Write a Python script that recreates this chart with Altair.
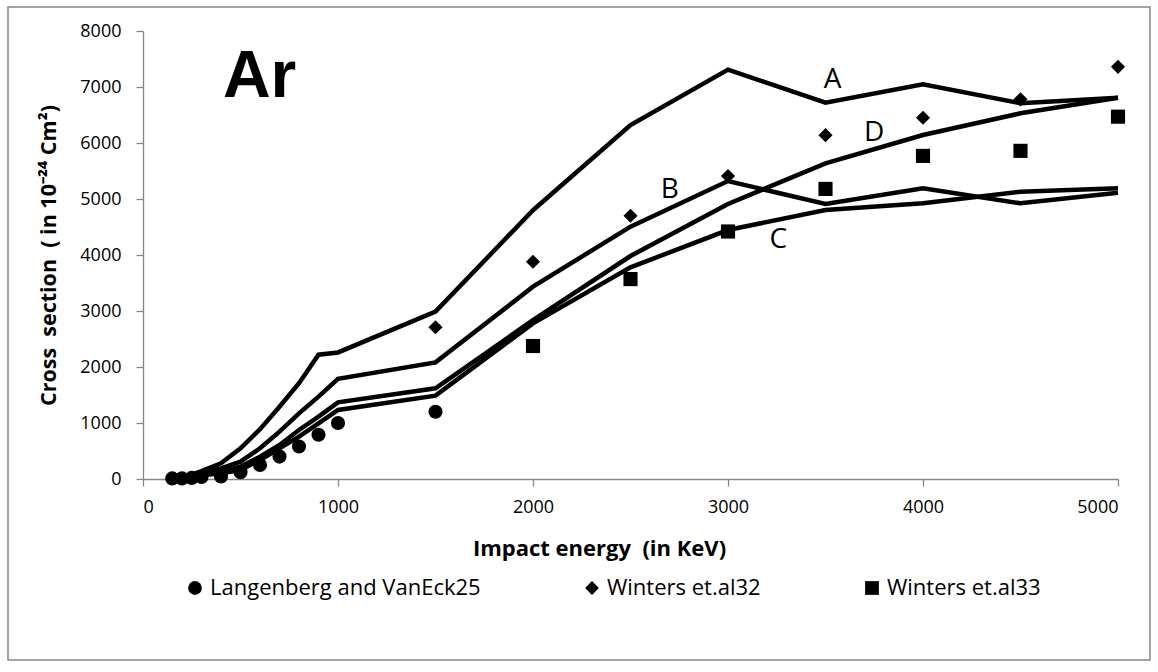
import altair as alt
import pandas as pd

# ---------------- data ----------------
energy_line = [150, 200, 250, 300, 400, 500, 600, 700, 800, 900, 1000,
               1500, 2000, 2500, 3000, 3500, 4000, 4500, 5000]
curve_A = [10, 40, 80, 140, 280, 548, 890, 1290, 1710, 2220, 2260,
           2990, 4800, 6320, 7310, 6720, 7050, 6710, 6810]
curve_B = [10, 35, 70, 110, 190, 310, 548, 845, 1173, 1470, 1790,
           2083, 3434, 4506, 5320, 4911, 5190, 4923, 5110]
curve_C = [5, 25, 45, 65, 101, 160, 339, 548, 756, 994, 1232,
           1488, 2780, 3780, 4446, 4804, 4923, 5131, 5190]
curve_D = [8, 30, 55, 80, 131, 220, 399, 607, 875, 1113, 1369,
           1619, 2839, 3982, 4911, 5637, 6143, 6530, 6809]

langenberg_energy = [150, 200, 250, 300, 400, 500, 600, 700, 800, 900, 1000, 1500]
langenberg_cs = [10, 10, 20, 35, 45, 120, 250, 400, 580, 790, 1000, 1200]

winters32_energy = [1500, 2000, 2500, 3000, 3500, 4000, 4500, 5000]
winters32_cs = [2710, 3880, 4700, 5410, 6140, 6450, 6780, 7360]

winters33_energy = [2000, 2500, 3000, 3500, 4000, 4500, 5000]
winters33_cs = [2375, 3570, 4420, 5180, 5770, 5860, 6470]

series_names = ["Langenberg and VanEck25", "Winters et.al32", "Winters et.al33"]
series_shapes = ["circle", "diamond", "square"]

curve_names = ["A", "B", "C", "D"]
curve_label_energy = [3537, 2702, 3258, 3749]
curve_label_cs = [7125, 5161, 4268, 6173]

element_name = ["Ar"]
element_energy = [598]
element_cs = [7179]

x_ticks = [0, 1000, 2000, 3000, 4000, 5000]
y_ticks = [0, 1000, 2000, 3000, 4000, 5000, 6000, 7000, 8000]

x_title = "Impact energy\u00a0 (in KeV)"
y_title = "Cross\u00a0 section\u00a0 ( in 10\u207b\u00b2\u2074 Cm\u00b2)"

# ---------------- tables ----------------
lines_df = pd.concat([
    pd.DataFrame({"energy": energy_line, "cs": vals, "curve": name})
    for name, vals in zip(curve_names, [curve_A, curve_B, curve_C, curve_D])
])
points_df = pd.concat([
    pd.DataFrame({"energy": langenberg_energy, "cs": langenberg_cs, "series": series_names[0]}),
    pd.DataFrame({"energy": winters32_energy, "cs": winters32_cs, "series": series_names[1]}),
    pd.DataFrame({"energy": winters33_energy, "cs": winters33_cs, "series": series_names[2]}),
])
labels_df = pd.DataFrame({"energy": curve_label_energy, "cs": curve_label_cs, "txt": curve_names})
element_df = pd.DataFrame({"energy": element_energy, "cs": element_cs, "txt": element_name})

FONT = "Open Sans"
GRAY = "#868686"

x_enc = alt.X("energy:Q",
              scale=alt.Scale(domain=[0, 5000], nice=False, zero=False),
              axis=alt.Axis(values=x_ticks, format="d", grid=False,
                            domainColor=GRAY, domainWidth=1.3,
                            tickColor=GRAY, tickWidth=1.3, tickSize=7,
                            labelFont=FONT, labelFontSize=18, labelColor="black",
                            labelPadding=12,
                            title=x_title,
                            titleFont=FONT, titleFontSize=22, titleFontWeight="bold",
                            titleColor="black",
                            titleX=456, titleY=69, titleBaseline="middle",
                            titleAlign="center"))
y_enc = alt.Y("cs:Q",
              scale=alt.Scale(domain=[0, 8000], nice=False),
              axis=alt.Axis(values=y_ticks, format="d", grid=False,
                            domainColor=GRAY, domainWidth=1.3,
                            tickColor=GRAY, tickWidth=1.3, tickSize=7,
                            labelFont=FONT, labelFontSize=18, labelColor="black",
                            labelPadding=15,
                            title=y_title,
                            titleFont=FONT, titleFontSize=21.5, titleFontWeight="bold",
                            titleColor="black",
                            titleX=-94, titleY=224, titleAngle=270,
                            titleBaseline="middle", titleAlign="center"))

frame = alt.Chart(alt.Data(values=[{"a": 1}])).mark_rect(
    fillOpacity=0, stroke=GRAY, strokeWidth=1.5
).encode(x=alt.value(-135), x2=alt.value(1007), y=alt.value(-24), y2=alt.value(629))

lines = alt.Chart(lines_df).mark_line(
    color="black", strokeWidth=4.5, strokeJoin="miter"
).encode(x=x_enc, y=y_enc, detail="curve:N")

points = alt.Chart(points_df).mark_point(
    filled=True, color="black", opacity=1, size=200
).encode(
    x="energy:Q", y="cs:Q",
    shape=alt.Shape("series:N",
                    scale=alt.Scale(domain=series_names, range=series_shapes),
                    legend=alt.Legend(title=None, orient="none",
                                      legendX=41, legendY=546,
                                      direction="horizontal", columns=3,
                                      columnPadding=100,
                                      labelFont=FONT, labelFontSize=22,
                                      labelColor="black", labelLimit=400,
                                      symbolSize=190, symbolFillColor="black",
                                      symbolStrokeColor="black", symbolOpacity=1,
                                      symbolStrokeWidth=0, labelOffset=4,
                                      padding=0))
)

curve_labels = alt.Chart(labels_df).mark_text(
    font=FONT, fontSize=28, color="black", align="center", baseline="middle"
).encode(x="energy:Q", y="cs:Q", text="txt:N")

element_label = alt.Chart(element_df).mark_text(
    font="Liberation Sans", fontSize=66, fontWeight="bold", color="black",
    align="center", baseline="middle"
).encode(x="energy:Q", y="cs:Q", text="txt:N")

chart = alt.layer(frame, lines, points, curve_labels, element_label).properties(
    width=975, height=448,
    autosize=alt.AutoSizeParams(type="none"),
    padding={"left": 143, "top": 31, "right": 40, "bottom": 193},
    background="white",
).configure_view(stroke=None)

chart.save("out.html", embed_options={"renderer": "svg", "actions": False})
